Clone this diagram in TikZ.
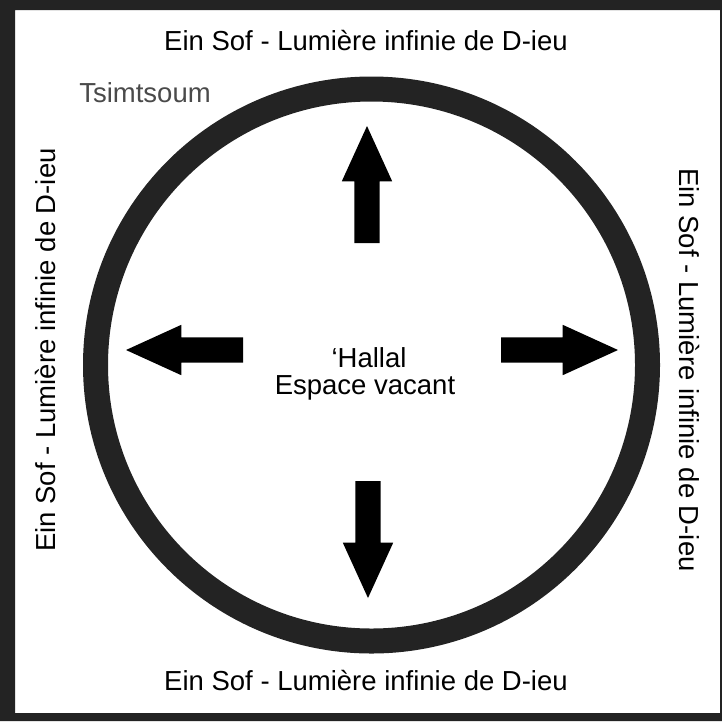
\documentclass[tikz,border=0pt]{standalone}
\usepackage{fontspec}
\setmainfont{Liberation Sans}
\usetikzlibrary{shapes.arrows}
\definecolor{ringgray}{HTML}{232323}
\definecolor{labelgray}{HTML}{4A4A4A}

\begin{document}
\begin{tikzpicture}[x=1pt, y=-1pt, every node/.style={font=\fontsize{27.5}{24}\selectfont}, lbl/.style={anchor=base, inner sep=0pt}, push/.style={single arrow, fill=black, anchor=tail, minimum height=117pt, text height=25pt, text depth=0pt, single arrow head extend=12.5pt, single arrow tip angle=49, inner sep=0pt, outer sep=0pt}]
	\useasboundingbox (0,0) rectangle (722,721);
	\fill[ringgray, even odd rule] (0,0) rectangle (722,721) (15,10) rectangle (720,713);
	\coordinate (mid) at (371.5,365);
	\draw[ringgray, line width=25pt] (mid) circle[radius=276];
	\node[lbl] (top) at (366,50) {Ein Sof - Lumière infinie de D-ieu};
	\node[lbl] (bottom) at (366,690) {Ein Sof - Lumière infinie de D-ieu};
	\node[lbl, rotate=90] (west) at (55,350) {Ein Sof - Lumière infinie de D-ieu};
	\node[lbl, rotate=-90] (east) at (679,370) {Ein Sof - Lumière infinie de D-ieu};
	\node[lbl, labelgray] (tsim) at (145,102) {Tsimtsoum};
	\node[lbl] (hallal) at (369,367) {‘Hallal};
	\node[lbl] (vacant) at (365,394) {Espace vacant};
	\node[push, rotate=90] (pushN) at (367,243) {};
	\node[push, rotate=-90] (pushS) at (368,481) {};
	\node[push, rotate=180] (pushW) at (243,350) {};
	\node[push] (pushE) at (501,350) {};
\end{tikzpicture}
\end{document}
